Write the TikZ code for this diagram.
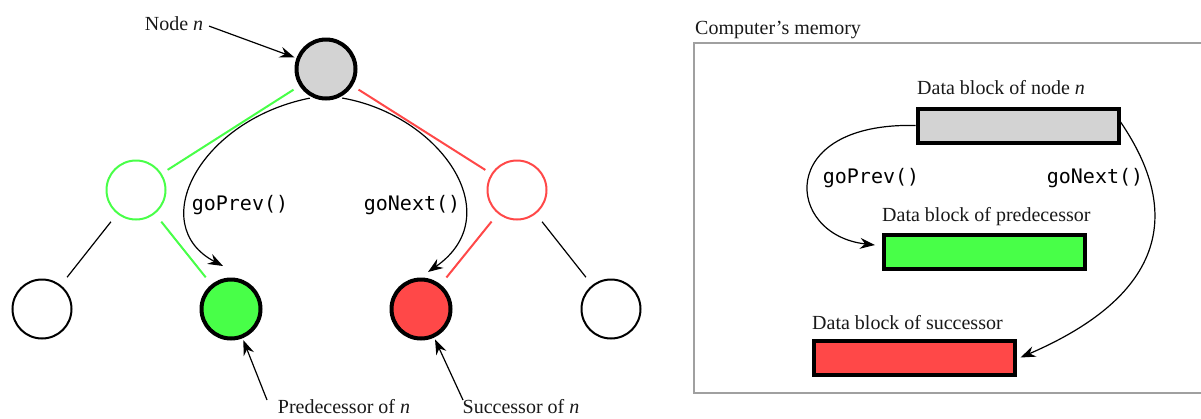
\documentclass[tikz,border=0pt]{standalone}
\usepackage{fontspec}
\setmainfont{Liberation Serif}
\newfontfamily\codefont{DejaVu Sans Mono}
\usetikzlibrary{arrows.meta}
\definecolor{nodegray}{RGB}{211,211,211}
\definecolor{predgreen}{RGB}{72,255,72}
\definecolor{succred}{RGB}{255,72,72}
\definecolor{framegray}{RGB}{160,160,160}
\definecolor{ink}{RGB}{25,25,25}
\tikzset{
  tnode/.style={circle, draw, minimum size=59pt, inner sep=0pt, line width=2pt},
  keynode/.style={tnode, line width=4pt},
  block/.style={draw, line width=4pt, minimum width=201pt, minimum height=34pt, inner sep=0pt},
  txt/.style={font=\fontsize{20}{24}\selectfont, text=ink, inner sep=0pt},
  code/.style={font=\codefont\fontsize{20}{24}\selectfont, inner sep=0pt},
  arr/.style={-{Stealth[length=15pt,width=11pt,inset=5pt]}, line width=1.2pt},
  plainedge/.style={line width=1.2pt},
  greenedge/.style={line width=2pt, draw=predgreen},
  rededge/.style={line width=2pt, draw=succred},
}
\begin{document}
\begin{tikzpicture}[x=1pt, y=-1pt]
\useasboundingbox (0,0) rectangle (1201,418);

% ---- binary tree ----
\node[keynode, fill=nodegray] (root) at (326,69) {};
\node[tnode, draw=predgreen] (pm) at (136,190) {};
\node[tnode, draw=succred] (sm) at (517,190) {};
\node[tnode] (ll) at (42,309) {};
\node[keynode, fill=predgreen] (pred) at (231,309) {};
\node[keynode, fill=succred] (succ) at (421,309) {};
\node[tnode] (rr) at (611,309) {};

\draw[greenedge, shorten <=7pt, shorten >=7pt] (root) -- (pm);
\draw[rededge, shorten <=7pt, shorten >=7pt] (root) -- (sm);
\draw[greenedge, shorten <=10pt, shorten >=9pt] (pm) -- (pred);
\draw[plainedge, shorten <=10pt, shorten >=10pt] (pm) -- (ll);
\draw[rededge, shorten <=10pt, shorten >=9pt] (sm) -- (succ);
\draw[plainedge, shorten <=10pt, shorten >=10pt] (sm) -- (rr);

% traversal arrows
\draw[arr, shorten <=3pt] (root.245) .. controls (200,120) and (145,225) .. ([shift={(-8,-43)}]pred.center);
\draw[arr, shorten <=3pt] (root.295) .. controls (440,115) and (510,215) .. ([shift={(7,-37)}]succ.center);
\node[code] (gp1) at (240,205) {goPrev()};
\node[code] (gn1) at (412,205) {goNext()};

% labels
\node[txt] (lbln) at (174,24) {Node \textit{n}};
\draw[arr, shorten <=6pt, shorten >=2pt] (lbln.east) -- (root);
\node[txt] (lblp) at (344,407) {Predecessor of \textit{n}};
\node[txt] (lbls) at (521,407) {Successor of \textit{n}};
\coordinate (pstart) at (267,400);
\coordinate (sstart) at (463,400);
\draw[arr, shorten >=2pt] (pstart) -- (pred);
\draw[arr, shorten >=2pt] (sstart) -- (succ);

% ---- memory ----
\node[txt, anchor=west] (memlbl) at (695,30) {Computer’s memory};
\draw[framegray, line width=1.5pt] (694,43) rectangle (1215,393);

\node[block, fill=nodegray] (bn) at (1018,125.5) {};
\node[block, fill=predgreen] (bp) at (984.5,251.5) {};
\node[block, fill=succred] (bs) at (914,357.5) {};
\node[txt, anchor=west] (lbn) at (917,88) {Data block of node \textit{n}};
\node[txt, anchor=west] (lbp) at (882,217) {Data block of predecessor};
\node[txt, anchor=west] (lbs) at (812,323) {Data block of successor};

\draw[arr] (bn.west) .. controls (775,122) and (785,235) .. ([shift={(-7,-6.5)}]bp.west);
\draw[arr] (bn.2) .. controls (1160,180) and (1200,280) .. ([shift={(4,0)}]bs.east);
\node[code] (gp2) at (871,178) {goPrev()};
\node[code] (gn2) at (1095,178) {goNext()};
\end{tikzpicture}
\end{document}
